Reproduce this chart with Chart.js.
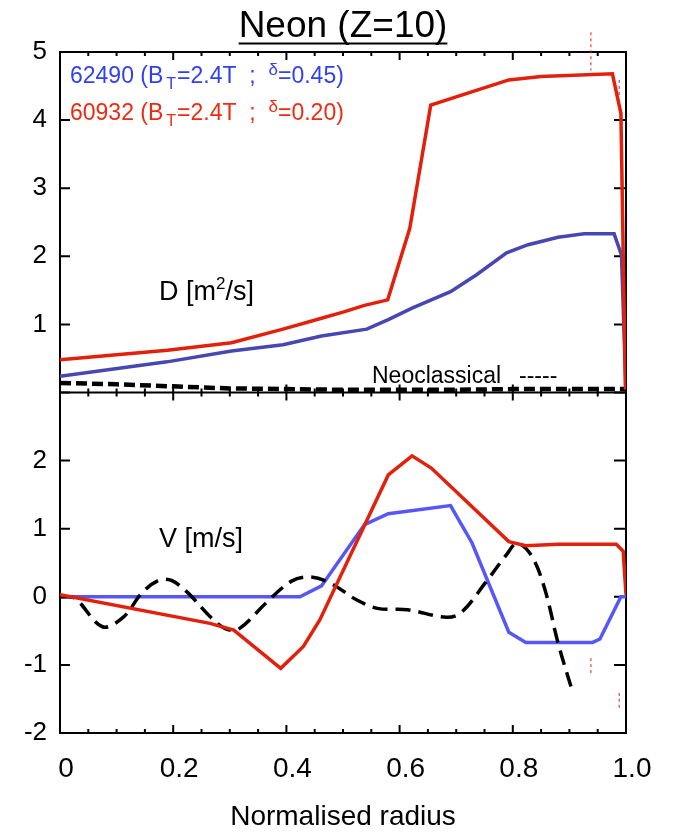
<!DOCTYPE html>
<html>
<head>
<meta charset="utf-8">
<script src="https://cdn.jsdelivr.net/npm/chart.js@4.4.0/dist/chart.umd.min.js"></script>
<style>
html, body { margin: 0; padding: 0; background: #fff; }
#wrap { width: 673px; height: 834px; }
</style>
</head>
<body>
<div id="wrap"><canvas id="chart" width="673" height="834"></canvas></div>
<script>
// Neon (Z=10) - D and V profiles vs normalised radius

// D [m2/s] - 60932 (red)
const dRedX = [0, 0.19, 0.303, 0.394, 0.462, 0.50, 0.538, 0.579, 0.618, 0.655, 0.793, 0.85, 0.976, 0.991, 0.999];
const dRedY = [0.48, 0.62, 0.73, 0.93, 1.09, 1.18, 1.28, 1.36, 2.41, 4.22, 4.59, 4.64, 4.68, 4.10, 0.04];
// D - 62490 (blue)
const dBlueX = [0, 0.189, 0.303, 0.394, 0.462, 0.542, 0.58, 0.622, 0.69, 0.736, 0.789, 0.827, 0.88, 0.926, 0.979, 0.992, 1.0];
const dBlueY = [0.24, 0.45, 0.61, 0.70, 0.83, 0.93, 1.07, 1.24, 1.48, 1.73, 2.05, 2.17, 2.28, 2.33, 2.33, 2.02, 0.02];
// D - neoclassical (black dashed)
const dNeoX = [0, 0.1, 0.2, 0.3, 0.4, 0.5, 0.6, 0.7, 0.8, 0.9, 1.0];
const dNeoY = [0.14, 0.12, 0.09, 0.06, 0.05, 0.04, 0.04, 0.04, 0.05, 0.05, 0.05];

// V [m/s] - 60932 (red)
const vRedX = [0, 0.265, 0.307, 0.39, 0.43, 0.459, 0.58, 0.622, 0.656, 0.793, 0.823, 0.88, 0.983, 0.995, 1.0];
const vRedY = [0.03, -0.39, -0.49, -1.05, -0.73, -0.34, 1.79, 2.07, 1.89, 0.81, 0.75, 0.77, 0.77, 0.67, 0.03];
// V - 62490 (blue)
const vBlueX = [0, 0.424, 0.462, 0.538, 0.58, 0.69, 0.728, 0.793, 0.823, 0.941, 0.954, 0.991, 1.0];
const vBlueY = [0, 0, 0.16, 1.06, 1.22, 1.34, 0.79, -0.52, -0.67, -0.67, -0.62, 0.0, 0.0];
// V - neoclassical (black dashed)
const vNeoX = [0, 0.026, 0.075, 0.113, 0.144, 0.174, 0.197, 0.227, 0.265, 0.295, 0.318, 0.364, 0.409, 0.443, 0.478, 0.523, 0.561, 0.614, 0.683, 0.709, 0.751, 0.789, 0.808, 0.834, 0.857, 0.88, 0.905];
const vNeoY = [0, -0.02, -0.44, -0.29, 0.05, 0.24, 0.24, 0.05, -0.29, -0.48, -0.46, -0.09, 0.23, 0.29, 0.20, -0.04, -0.17, -0.19, -0.30, -0.23, 0.20, 0.62, 0.79, 0.59, 0.10, -0.68, -1.38];

// little red dotted guide marks
const guideX = [0.938, 0.988];
const guideD = [[5.29, 4.73], [4.59, 4.37]];
const guideV = [[-0.90, -1.16], [-1.41, -1.66]];

const xTicks = [0, 0.2, 0.4, 0.6, 0.8, 1.0];

const FONT = '"Liberation Sans", Arial, Helvetica, sans-serif';
const RED = '#e2200c';
const BLUE_D = '#4747b2';
const BLUE_V = '#5757f7';

function pts(xs, ys) {
    return xs.map((x, i) => ({ x: x, y: ys[i] }));
}

function lineSet(data, axis, color, width, extra) {
    return Object.assign({
        data: data,
        yAxisID: axis,
        borderColor: color,
        borderWidth: width,
        pointRadius: 0,
        tension: 0,
        fill: false
    }, extra || {});
}

// frame and inward ticks, like the original plot
const framePlugin = {
    id: 'frame',
    beforeDatasetsDraw(chart) {
        const ctx = chart.ctx;
        const a = chart.chartArea;
        const sx = chart.scales.x;
        const yD = chart.scales.yD;
        const yV = chart.scales.yV;
        const mid = yD.getPixelForValue(0);
        ctx.save();
        ctx.strokeStyle = '#000';
        ctx.lineWidth = 2;
        ctx.strokeRect(a.left, a.top, a.right - a.left, a.bottom - a.top);
        ctx.beginPath();
        ctx.moveTo(a.left, mid);
        ctx.lineTo(a.right, mid);
        ctx.stroke();

        ctx.beginPath();
        for (let i = 0; i <= 20; i++) {
            const px = sx.getPixelForValue(i / 20);
            const len = i % 4 === 0 ? 8 : 4;
            ctx.moveTo(px, a.top); ctx.lineTo(px, a.top + len);
            ctx.moveTo(px, mid - len); ctx.lineTo(px, mid + len);
            ctx.moveTo(px, a.bottom); ctx.lineTo(px, a.bottom - len);
        }
        [yD, yV].forEach(s => {
            s.ticks.forEach(t => {
                const py = s.getPixelForValue(t.value);
                ctx.moveTo(a.left, py); ctx.lineTo(a.left + 10, py);
                ctx.moveTo(a.right, py); ctx.lineTo(a.right - 12, py);
            });
        });
        ctx.stroke();
        ctx.restore();
    }
};

function drawRuns(ctx, x, y, runs, color) {
    ctx.fillStyle = color;
    ctx.textAlign = 'left';
    ctx.textBaseline = 'alphabetic';
    runs.forEach(r => {
        ctx.font = r.size + 'px ' + FONT;
        ctx.fillText(r.t, x, y + (r.dy || 0));
        x += ctx.measureText(r.t).width + (r.gap || 0);
    });
}

// title, legend and panel labels
const textPlugin = {
    id: 'texts',
    afterDraw(chart) {
        const ctx = chart.ctx;
        ctx.save();

        ctx.font = '37px ' + FONT;
        ctx.fillStyle = '#000';
        ctx.textAlign = 'center';
        ctx.textBaseline = 'alphabetic';
        const title = 'Neon (Z=10)';
        ctx.fillText(title, 343, 37);
        const w = ctx.measureText(title).width;
        ctx.strokeStyle = '#000';
        ctx.lineWidth = 2;
        ctx.beginPath();
        ctx.moveTo(343 - w / 2, 43.5);
        ctx.lineTo(343 + w / 2, 43.5);
        ctx.stroke();

        const legend = [
            { id: '62490', d: '0.45', color: '#3340ef', y: 83 },
            { id: '60932', d: '0.20', color: '#f02a10', y: 120 }
        ];
        legend.forEach(l => {
            drawRuns(ctx, 70, l.y, [
                { t: l.id + ' (B', size: 23, gap: 3 },
                { t: 'T', size: 16, dy: 6, gap: 1 },
                { t: '=2.4T  ;  ', size: 23 },
                { t: 'δ', size: 17, dy: -8 },
                { t: '=' + l.d + ')', size: 23 }
            ], l.color);
        });

        drawRuns(ctx, 159, 300, [
            { t: 'D [m', size: 27 },
            { t: '2', size: 17, dy: -11 },
            { t: '/s]', size: 27 }
        ], '#000');
        drawRuns(ctx, 159, 547, [{ t: 'V [m/s]', size: 27 }], '#000');
        drawRuns(ctx, 372, 383, [{ t: 'Neoclassical', size: 23 }], '#000');
        drawRuns(ctx, 519, 383, [{ t: '-----', size: 23 }], '#000');

        ctx.restore();
    }
};

const datasets = [
    lineSet(pts(dRedX, dRedY), 'yD', RED, 3.5),
    lineSet(pts(vRedX, vRedY), 'yV', RED, 3.5),
    lineSet(pts(dNeoX, dNeoY), 'yD', '#000', 4.5, { borderDash: [11, 5] }),
    lineSet(pts(vNeoX, vNeoY), 'yV', '#000', 3.5, { borderDash: [15, 8], tension: 0.35 }),
    lineSet(pts(dBlueX, dBlueY), 'yD', BLUE_D, 3.5),
    lineSet(pts(vBlueX, vBlueY), 'yV', BLUE_V, 3.5)
];
guideX.forEach((gx, i) => {
    datasets.push(lineSet(pts([gx, gx], guideD[i]), 'yD', RED, 1, { borderDash: [3, 3], clip: false }));
    datasets.push(lineSet(pts([gx, gx], guideV[i]), 'yV', RED, 1, { borderDash: [3, 3], clip: false }));
});

new Chart(document.getElementById('chart'), {
    type: 'line',
    data: { datasets: datasets },
    options: {
        responsive: false,
        animation: false,
        layout: { padding: { top: 52, right: 47, bottom: 0, left: 0 } },
        plugins: {
            legend: { display: false },
            tooltip: { enabled: false }
        },
        scales: {
            x: {
                type: 'linear',
                min: 0,
                max: 1,
                afterBuildTicks: s => { s.ticks = xTicks.map(v => ({ value: v })); },
                afterFit: s => { s.height = 101; },
                grid: { display: false, drawTicks: false },
                border: { display: false },
                ticks: {
                    color: '#000',
                    padding: 19,
                    labelOffset: 6,
                    font: { family: FONT, size: 28 },
                    callback: v => v === 0 ? '0' : v.toFixed(1)
                },
                title: {
                    display: true,
                    text: 'Normalised radius',
                    color: '#000',
                    padding: { top: 0, bottom: 0 },
                    font: { family: FONT, size: 28 }
                }
            },
            // stacked axes: the one defined first ends up at the bottom
            yV: {
                type: 'linear',
                position: 'left',
                stack: 'panels',
                stackWeight: 1,
                min: -2,
                max: 3,
                afterFit: s => { s.width = 60; },
                grid: { display: false, drawTicks: false },
                border: { display: false },
                ticks: {
                    stepSize: 1,
                    color: '#000',
                    padding: 13,
                    font: { family: FONT, size: 26 },
                    callback: v => v === 3 ? '' : String(v)
                }
            },
            yD: {
                type: 'linear',
                position: 'left',
                stack: 'panels',
                stackWeight: 1,
                min: 0,
                max: 5,
                afterFit: s => { s.width = 60; },
                grid: { display: false, drawTicks: false },
                border: { display: false },
                ticks: {
                    stepSize: 1,
                    color: '#000',
                    padding: 13,
                    font: { family: FONT, size: 26 },
                    callback: v => v === 0 ? '' : String(v)
                }
            }
        }
    },
    plugins: [framePlugin, textPlugin]
});
</script>
</body>
</html>
